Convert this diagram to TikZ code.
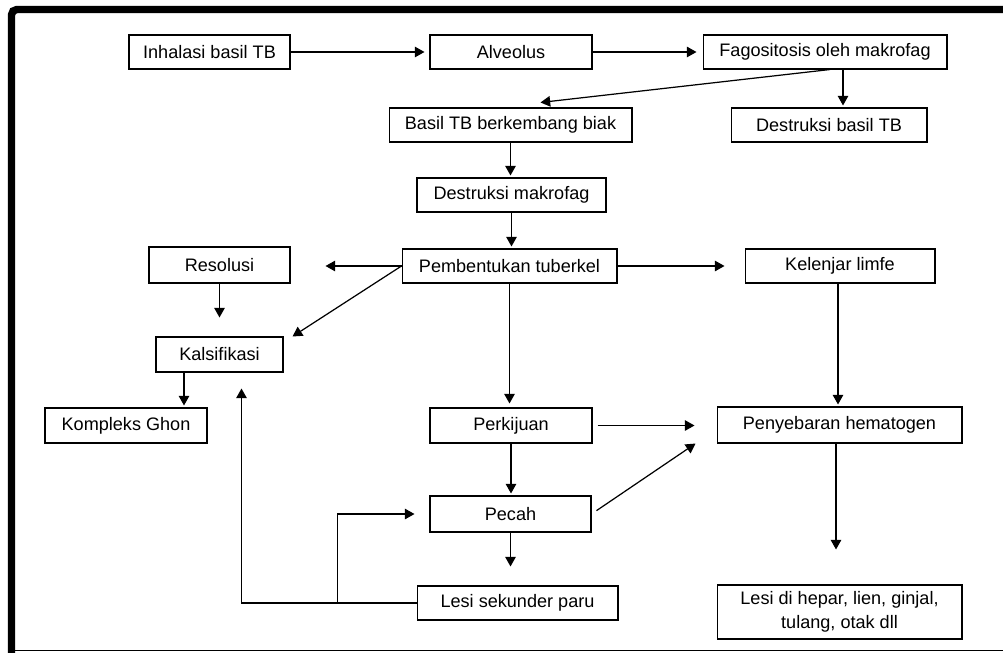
\documentclass[tikz,border=0pt]{standalone}
\usepackage{fontspec}
\setmainfont{Liberation Sans}
\usetikzlibrary{arrows.meta,calc}
\begin{document}
\begin{tikzpicture}[x=0.02cm,y=-0.02cm,
  box/.style={draw,line width=0.6pt,minimum height=0.68cm,inner sep=0pt,align=center,font=\fontsize{10.3}{13.6}\selectfont},
  arr/.style={line width=0.7pt,-{Triangle[length=5.5pt,width=6pt]}},
  ln/.style={line width=0.7pt}]
\useasboundingbox (0,0) rectangle (1003,652);
% frame
\draw[line width=4.2pt,rounded corners=3pt] (11.5,660) -- (11.5,9.5) -- (1010,9.5);
\draw[line width=0.7pt] (15,650.5) -- (1003,650.5);
% nodes
\node[box,minimum width=3.22cm] (inh) at (209.5,52) {Inhalasi basil TB};
\node[box,minimum width=3.24cm] (alv) at (511,52) {Alveolus};
\node[box,minimum width=4.88cm] (fag) at (825,52) {Fagositosis oleh makrofag};
\node[box,minimum width=4.86cm] (bas) at (510.5,125) {Basil TB berkembang biak};
\node[box,minimum width=3.92cm] (dbt) at (829,125) {Destruksi basil TB};
\node[box,minimum width=3.78cm] (dmk) at (511.5,195) {Destruksi makrofag};
\node[box,minimum width=4.30cm] (pem) at (509.5,266) {Pembentukan tuberkel};
\node[box,minimum width=2.82cm,minimum height=0.72cm] (res) at (219.5,265) {Resolusi};
\node[box,minimum width=3.80cm] (kel) at (840,266) {Kelenjar limfe};
\node[box,minimum width=2.54cm,minimum height=0.7cm] (kal) at (219.5,354.5) {Kalsifikasi};
\node[box,minimum width=3.24cm,minimum height=0.7cm] (kgh) at (126,425.5) {Kompleks Ghon};
\node[box,minimum width=3.24cm,minimum height=0.7cm] (per) at (511,425.5) {Perkijuan};
\node[box,minimum width=4.90cm,minimum height=0.72cm] (pen) at (839.5,425) {Penyebaran hematogen};
\node[box,minimum width=3.22cm,minimum height=0.72cm] (pec) at (510.5,514) {Pecah};
\node[box,minimum width=4.02cm] (les) at (517.5,603) {Lesi sekunder paru};
\node[box,minimum width=4.90cm,minimum height=1.08cm] (hep) at (839.5,612) {Lesi di hepar, lien, ginjal,\\tulang, otak dll};
% connectors
\draw[arr,shorten >=0.1cm] (inh.east) -- (alv.west);
\draw[arr,shorten >=0.12cm] (alv.east) -- (fag.west);
\draw[arr] ($(fag.south)+(5,0)$) -- ($(bas.north)+(30,-5)$);
\draw[arr,shorten >=0.04cm] ($(fag.south)+(18,0)$) -- ($(dbt.north)+(14,0)$);
\draw[arr,shorten >=0.04cm] (bas.south) -- (bas.south |- dmk.north);
\draw[arr,shorten >=0.04cm] (dmk.south) -- (dmk.south |- pem.north);
\draw[arr,shorten >=0.7cm] (pem.west) -- (pem.west -| res.east);
\draw[arr] (pem.west) -- ($(kal.north east)+(9,0)$);
\draw[arr,shorten >=0.38cm] (res.south) -- (res.south |- kal.north);
\draw[arr,shorten >=0.4cm] (pem.east) -- (pem.east -| kel.west);
\draw[arr,shorten >=0.08cm] (pem.south) -- (pem.south |- per.north);
\draw[arr,shorten >=0.04cm] ($(kel.south)+(-2,0)$) -- ($(kel.south |- pen.north)+(-2,0)$);
\coordinate (c0) at ($(kal.south)+(-35.5,0)$);
\draw[arr,shorten >=0.04cm] (c0) -- (c0 |- kgh.north);
\coordinate (c1) at ($(les.west)+(-175,0)$);
\coordinate (c2) at ($(les.west)+(-79,0)$);
\draw[ln] (les.west) -- (c1);
\draw[arr,shorten >=0.32cm] (c1) -- (c1 |- kal.south);
\draw[arr,shorten >=0.3cm] (c2) -- (c2 |- pec.west) -- (pec.west);
\draw[arr,shorten <=0.1cm,shorten >=0.44cm] (per.east) -- (per.east -| pen.west);
\draw[arr,shorten <=0.12cm] (pec.east) -- ($(pen.south west)+(-21,0)$);
\draw[arr,shorten >=0.04cm] (per.south) -- (per.south |- pec.north);
\draw[arr,shorten >=0.38cm] (pec.south) -- (pec.south |- les.north);
\draw[arr,shorten >=0.7cm] ($(pen.south)+(-3.5,0)$) -- ($(pen.south |- hep.north)+(-3.5,0)$);
\end{tikzpicture}
\end{document}
